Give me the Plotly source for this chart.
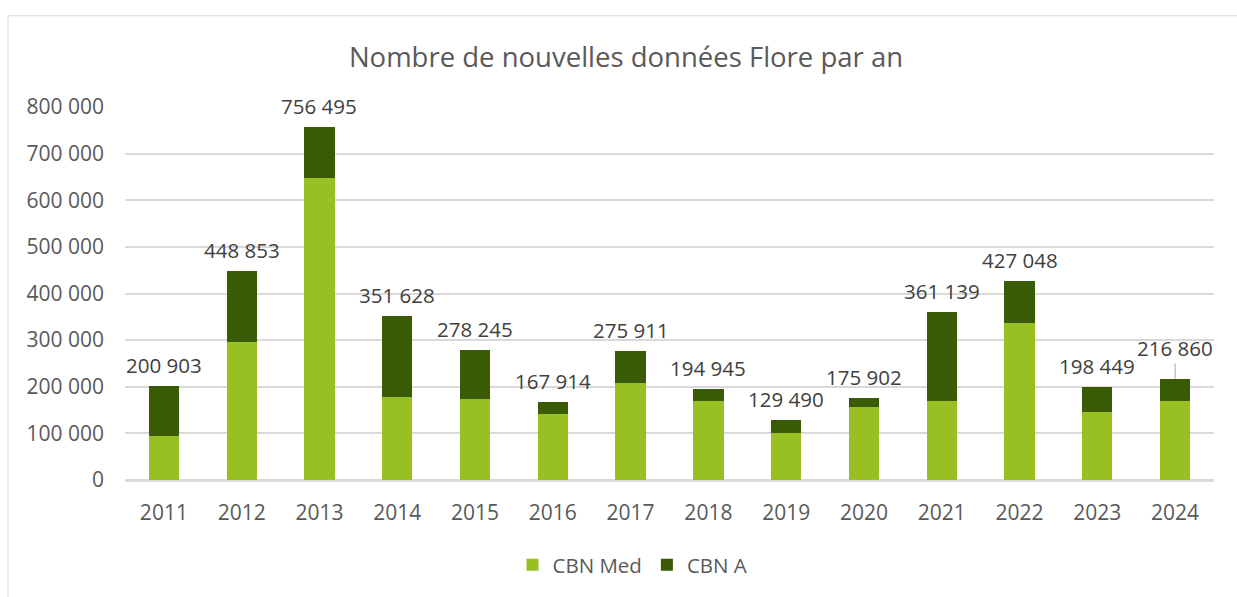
import plotly.graph_objects as go

years = ["2011", "2012", "2013", "2014", "2015", "2016", "2017",
         "2018", "2019", "2020", "2021", "2022", "2023", "2024"]
cbn_med = [95200, 295500, 648600, 178300, 174100, 141500, 208200,
           169800, 100200, 156400, 169800, 336000, 145700, 169800]
cbn_a = [105703, 153353, 107895, 173328, 104145, 26414, 67711,
         25145, 29290, 19502, 191339, 91048, 52749, 47060]
totals = [200903, 448853, 756495, 351628, 278245, 167914, 275911,
          194945, 129490, 175902, 361139, 427048, 198449, 216860]
y_ticks = [0, 100000, 200000, 300000, 400000, 500000, 600000, 700000, 800000]

LIGHT = "#98C022"
DARK = "#3A5B05"
FONT = "Open Sans"

fig = go.Figure()
fig.add_trace(go.Bar(x=years, y=cbn_med, name="CBN Med", marker_color=LIGHT,
                     marker_line_width=0, hoverinfo="skip"))
fig.add_trace(go.Bar(x=years, y=cbn_a, name="CBN A", marker_color=DARK,
                     marker_line_width=0, hoverinfo="skip"))


def fmt(v):
    return f"{v:,}".replace(",", " ")


# on a category axis, annotation x is the category's serial index
for i, (yr, tot) in enumerate(zip(years, totals)):
    if yr == "2024":
        fig.add_annotation(x=i, y=tot, text=fmt(tot), showarrow=True,
                           arrowhead=0, arrowwidth=1, arrowcolor="#a6a6a6",
                           ax=0, ay=-31, font=dict(family=FONT, size=20.5, color="#404040"))
    else:
        fig.add_annotation(x=i, y=tot, text=fmt(tot), showarrow=False,
                           yanchor="middle", yshift=21,
                           font=dict(family=FONT, size=20.5, color="#404040"))

# outer chart border
fig.add_shape(type="rect", xref="paper", yref="paper",
              x0=-0.1074, x1=1.2, y0=-0.4, y1=1.2447,
              line=dict(color="#d9d9d9", width=1), fillcolor="rgba(0,0,0,0)", layer="below")

fig.update_layout(
    width=1237, height=597,
    barmode="stack", bargap=0.61,
    separators=", ",
    paper_bgcolor="white", plot_bgcolor="white",
    margin=dict(l=125, r=23, t=107, b=114),
    title=dict(text="Nombre de nouvelles données Flore par an",
               x=626 / 1237, xanchor="center", y=1 - 57 / 597, yanchor="middle",
               font=dict(family=FONT, size=27.5, color="#595959")),
    legend=dict(orientation="h", x=0.466, xanchor="center", y=-0.228, yanchor="middle",
                font=dict(family=FONT, size=20.5, color="#595959"),
                traceorder="normal", itemwidth=30),
    font=dict(family=FONT, color="#595959"),
)
fig.update_yaxes(range=[0, 800000], tickvals=y_ticks, tickformat=",",
                 showgrid=True, gridcolor="#d9d9d9", gridwidth=1.5,
                 zeroline=True, zerolinecolor="#d9d9d9", zerolinewidth=1.5,
                 showline=False, ticks="", ticklabelstandoff=20,
                 tickfont=dict(family=FONT, size=21, color="#595959"))
fig.update_xaxes(type="category", range=[-0.5, len(years) - 0.5],
                 showline=True, linecolor="#d9d9d9", linewidth=1.5,
                 ticks="", ticklabelstandoff=13,
                 tickfont=dict(family=FONT, size=21, color="#595959"))

fig.write_html("out.html", post_script="document.body.style.margin='0';",
               config={"displayModeBar": False})
